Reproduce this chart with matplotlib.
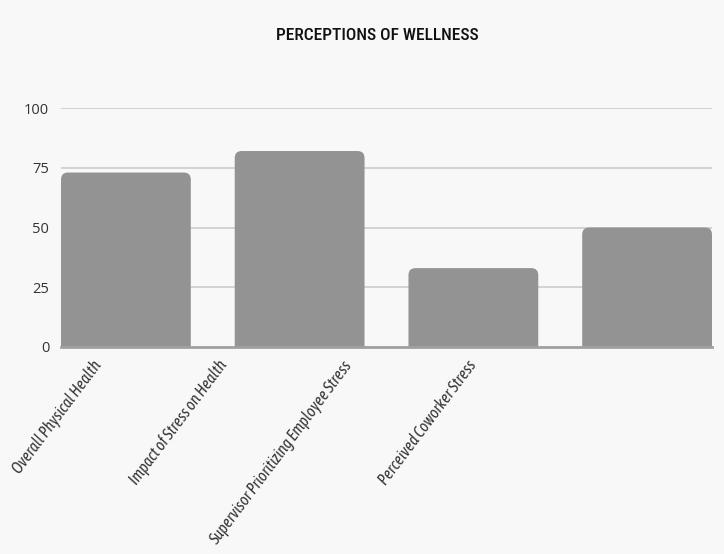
import matplotlib
matplotlib.use("Agg")
import matplotlib.pyplot as plt
from matplotlib.patches import FancyBboxPatch
from matplotlib import font_manager as fm

categories = ["Overall Physical Health", "Impact of Stress on Health",
              "Supervisor Prioritizing Employee Stress", "Perceived Coworker Stress"]
values = [73, 82, 33, 50]
yticks = [0, 25, 50, 75, 100]
title = "PERCEPTIONS OF WELLNESS"

names = {f.name for f in fm.fontManager.ttflist}


def pick(cands):
    for c in cands:
        if c in names:
            return c
    return "DejaVu Sans"


title_font = pick(["Roboto Condensed", "Archivo Narrow", "Barlow Condensed", "Roboto"])
label_font = pick(["Asap Condensed", "Encode Sans Condensed", "Barlow Semi Condensed", "Open Sans"])
tick_font = pick(["Open Sans", "Noto Sans"])

W, H = 724, 554
fig = plt.figure(figsize=(W / 100, H / 100), dpi=100, facecolor="#f8f8f8")
left, right, bottom, top = 61, 712, 347, 108
ax = fig.add_axes([left / W, (H - bottom) / H, (right - left) / W, (bottom - top) / H])
ax.set_facecolor("#f8f8f8")

bw = 130 / 174
n = len(values)
ax.set_xlim(-bw / 2, n - 1 + bw / 2)
ax.set_ylim(0, 100)

xpp = (n - 1 + bw) / (right - left)
ypp = 100 / (bottom - top)
aspect = ypp / xpp
r = 7 * xpp

for yv in yticks[1:]:
    ax.axhline(yv, color="#cccccc", lw=1.2, zorder=1)

for i, v in enumerate(values):
    p = FancyBboxPatch((i - bw / 2, -10), bw, v + 10,
                       boxstyle=f"round,pad=0,rounding_size={r}",
                       mutation_aspect=aspect, fc="#939393", ec="none", zorder=2)
    ax.add_patch(p)

ax.axhline(0, color="#a0a0a0", lw=2, zorder=3, clip_on=False)

for s in ax.spines.values():
    s.set_visible(False)

ax.set_yticks(yticks)
ax.set_yticklabels([str(t) for t in yticks], fontsize=10.5, color="#333333",
                   fontfamily=tick_font)
ax.tick_params(axis="y", length=0, pad=8.5)

lab_start = -bw / 2 + (99 - left) * xpp
lab_step = 125 * xpp
ax.set_xticks([])
for i, c in enumerate(categories):
    ax.text(lab_start + lab_step * i, -6.5, c, rotation=53, rotation_mode="anchor",
            ha="right", va="center", fontsize=11.4, style="italic", fontweight="normal",
            fontfamily=label_font, color="#333333")

fig.text(377 / W, 1 - 36 / H, title, ha="center", va="center",
         fontsize=12.5, fontfamily=title_font, fontweight="medium", color="#111111")

fig.savefig("out.png", dpi=100, facecolor=fig.get_facecolor())
